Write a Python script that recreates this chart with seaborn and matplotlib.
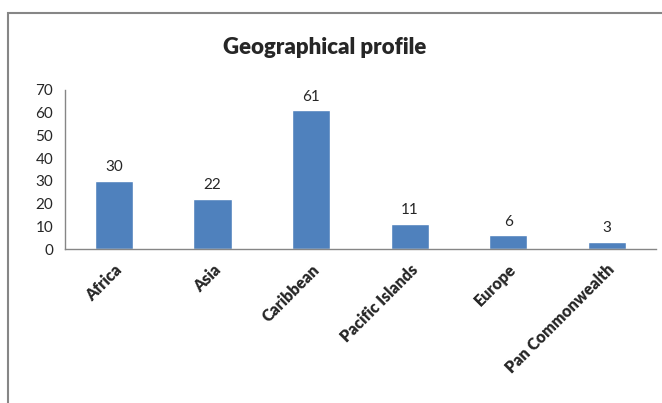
import matplotlib.pyplot as plt
import matplotlib.patches as mpatches
import numpy as np
import pandas as pd
import seaborn as sns

# data
regions = ["Africa", "Asia", "Caribbean", "Pacific Islands", "Europe", "Pan Commonwealth"]
counts = [30, 22, 61, 11, 6, 3]

df = pd.DataFrame({"region": regions, "count": counts})

sns.set_style("white")
plt.rcParams["font.family"] = ["Lato", "DejaVu Sans"]

fig = plt.figure(figsize=(6.62, 4.03), dpi=100)
ax = fig.add_axes([0.098, 0.382, 0.893, 0.395])

sns.barplot(data=df, x="region", y="count", color="#4F81BD", width=0.39,
            saturation=1, ax=ax)

# value labels above the bars
for i, v in enumerate(counts):
    ax.text(i, v + 3, str(v), ha="center", va="bottom", fontsize=11)

ax.set_ylim(0, 70)
ax.set_yticks(range(0, 71, 10))
ax.set_xlim(-0.5, len(regions) - 0.5)
ax.set_xlabel("")
ax.set_ylabel("")

# tick marks sit between the categories, like Excel
ax.set_xticks(np.arange(-0.5, len(regions)), minor=True)
ax.tick_params(axis="x", which="major", length=0, pad=9)
ax.tick_params(axis="x", which="minor", length=5, color="#868686", width=1, direction="out")
ax.tick_params(axis="y", length=5, color="#868686", width=1, direction="out", labelsize=11)
ax.set_xticklabels(regions, rotation=45, ha="right", rotation_mode="anchor",
                   fontsize=11.5, fontweight="heavy")

for s in ["top", "right"]:
    ax.spines[s].set_visible(False)
for s in ["left", "bottom"]:
    ax.spines[s].set_color("#868686")
    ax.spines[s].set_linewidth(1)

fig.text(0.49, 0.883, "Geographical profile", ha="center", va="center",
         fontsize=16, fontweight="heavy")

# chart area border (runs off the right and bottom edges)
fig.add_artist(mpatches.Rectangle((8 / 662, -0.1), 1.2, 1.1 - 13 / 403,
                                  transform=fig.transFigure, fill=False,
                                  edgecolor="#868686", linewidth=1.5))

fig.savefig("out.png", dpi=100)
